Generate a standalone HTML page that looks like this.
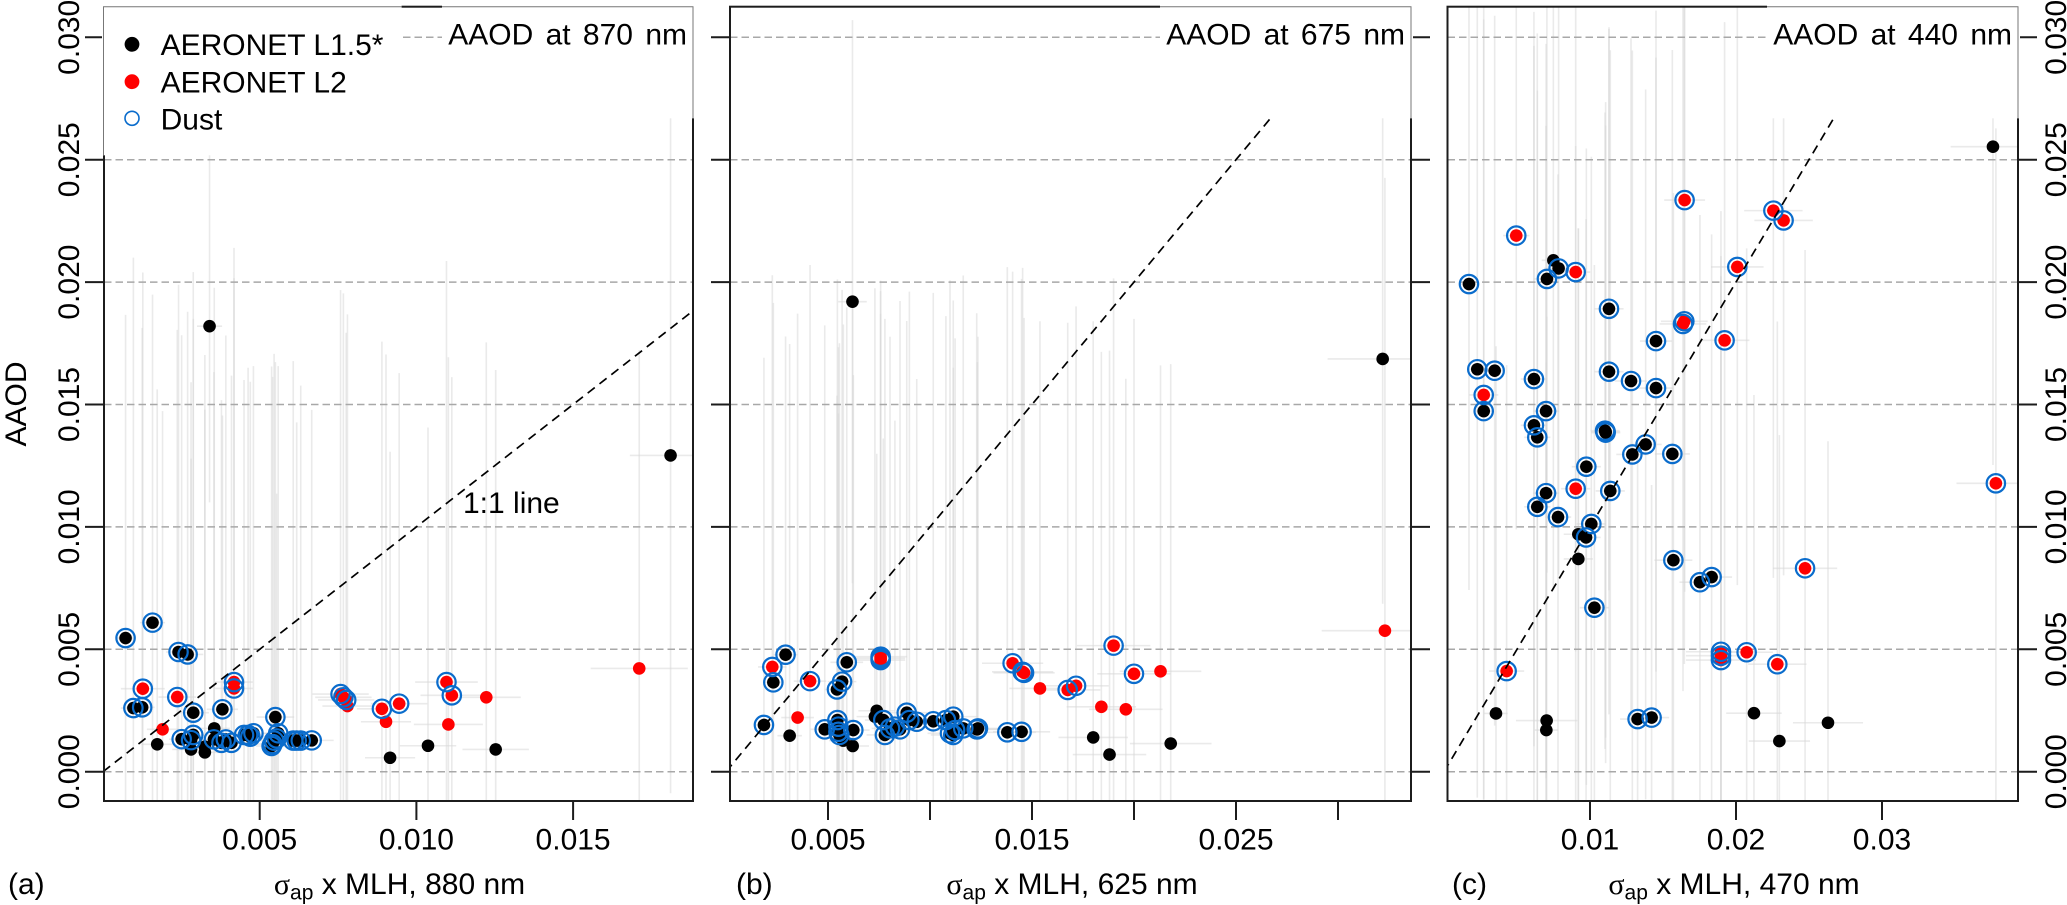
<!DOCTYPE html>
<html lang="en">
<head>
<meta charset="utf-8">
<title>AAOD versus absorption times mixing layer height</title>
<style>
html,body{margin:0;padding:0;background:#fff;}
body{width:2067px;height:905px;overflow:hidden;}
svg{display:block;}
text{font-family:"Liberation Sans",sans-serif;font-size:30px;fill:#000;}
</style>
</head>
<body>
<svg id="chart" xmlns="http://www.w3.org/2000/svg" width="2067" height="905" viewBox="0 0 2067 905">
  <defs>
    <clipPath id="clip-a"><rect x="104" y="6.7" width="589" height="794.3"/></clipPath>
    <clipPath id="clip-b"><rect x="730" y="6.7" width="681" height="794.3"/></clipPath>
    <clipPath id="clip-c"><rect x="1447.5" y="6.7" width="570.5" height="794.3"/></clipPath>
  </defs>
  <g id="plots"></g>

  <g>
    <rect x="102" y="5" width="299.6" height="150.3" fill="#fff"/>
    <polyline points="103.5,155.3 103.5,6.7 401.6,6.7" fill="none" stroke="#777" stroke-width="1"/>
    <circle cx="132" cy="44.3" r="7.4" fill="#000"/>
    <text x="160.6" y="55">AERONET L1.5*</text>
    <circle cx="132" cy="81.7" r="7.4" fill="#f00"/>
    <text x="160.6" y="92.3">AERONET L2</text>
    <circle cx="132" cy="118.3" r="7" fill="none" stroke="#0a6ccc" stroke-width="1.6"/>
    <text x="160.6" y="129.3">Dust</text>
  </g>

  <g>
    <rect x="442" y="5" width="253" height="113.3" fill="#fff"/>
    <polyline points="442,6.7 693,6.7 693,118.3" fill="none" stroke="#777" stroke-width="1"/>
    <text x="687" y="44.3" text-anchor="end" style="word-spacing:4px">AAOD at 870 nm</text>
  </g>
  <g>
    <rect x="1160" y="5" width="253" height="113.3" fill="#fff"/>
    <polyline points="1160,6.7 1411,6.7 1411,118.3" fill="none" stroke="#777" stroke-width="1"/>
    <text x="1405" y="44.3" text-anchor="end" style="word-spacing:4px">AAOD at 675 nm</text>
  </g>
  <g>
    <rect x="1767" y="5" width="253" height="113.3" fill="#fff"/>
    <polyline points="1767,6.7 2018,6.7 2018,118.3" fill="none" stroke="#777" stroke-width="1"/>
    <text x="2012" y="44.3" text-anchor="end" style="word-spacing:4px">AAOD at 440 nm</text>
  </g>

  <text x="463" y="513">1:1 line</text>
  <text transform="translate(26,404) rotate(-90)" text-anchor="middle">AAOD</text>

  <text x="8" y="894">(a)</text>
  <text x="736" y="894">(b)</text>
  <text x="1452" y="894">(c)</text>

  <text x="399.5" y="894" text-anchor="middle"><tspan style="font-family:'Liberation Serif','DejaVu Serif',serif">σ</tspan><tspan dy="5.5" style="font-size:21px">ap</tspan><tspan dy="-5.5"> x MLH, 880 nm</tspan></text>
  <text x="1072" y="894" text-anchor="middle"><tspan style="font-family:'Liberation Serif','DejaVu Serif',serif">σ</tspan><tspan dy="5.5" style="font-size:21px">ap</tspan><tspan dy="-5.5"> x MLH, 625 nm</tspan></text>
  <text x="1734" y="894" text-anchor="middle"><tspan style="font-family:'Liberation Serif','DejaVu Serif',serif">σ</tspan><tspan dy="5.5" style="font-size:21px">ap</tspan><tspan dy="-5.5"> x MLH, 470 nm</tspan></text>
</svg>

<script>
/* ---------- shared tick values ---------- */
var yTicks = [0, 0.005, 0.01, 0.015, 0.02, 0.025, 0.03];
var yTickLabels = ["0.000", "0.005", "0.010", "0.015", "0.020", "0.025", "0.030"];

/* ---------- panel (a) 880 / 870 nm ---------- */
var aXTicks = [0.005, 0.01, 0.015];
var aXTickLabels = ["0.005", "0.010", "0.015"];
var aX = [.00072,.00158,.00241,.00270,.00097,.00125,.00288,.00381,.00550,.00559,
          .00251,.00288,.00281,.00354,.00378,.00392,.00410,.00450,.00463,.00480,
          .00470,.00541,.00546,.00554,.00538,.00607,.00618,.00631,.00666,
          .00127,.00237,.00418,.00418,.00758,.00767,.00776,.00890,.00945,.01096,.01113,
          .00190,.00780,.00903,.01102,.01223,.01711,
          .00173,.00281,.00325,.00325,.00355,.00916,.01037,.01253,.00340,.01811];
var aY = [.00546,.00609,.00489,.00479,.00260,.00263,.00241,.00255,.00223,.00157,
          .00133,.00150,.00129,.00132,.00118,.00132,.00118,.00150,.00150,.00157,
          .00143,.00113,.00127,.00136,.00105,.00127,.00127,.00127,.00128,
          .00339,.00305,.00366,.00340,.00317,.00304,.00293,.00257,.00278,.00366,.00312,
          .00173,.00268,.00204,.00193,.00304,.00422,
          .00112,.00091,.00079,.00102,.00177,.00057,.00106,.00091,.01820,.01292];
var aRed = [0,0,0,0,0,0,0,0,0,0, 0,0,0,0,0,0,0,0,0,0, 0,0,0,0,0,0,0,0,0,
            1,1,1,1,1,1,1,1,1,1,1, 1,1,1,1,1,1, 0,0,0,0,0,0,0,0,0,0];
var aDust = [1,1,1,1,1,1,1,1,1,1, 1,1,1,1,1,1,1,1,1,1, 1,1,1,1,1,1,1,1,1,
             1,1,1,1,1,1,1,1,1,1,1, 0,0,0,0,0,0, 0,0,0,0,0,0,0,0,0,0];
var aXerr = [.0003,.0004,.0004,.0005,.0004,.0004,.0005,.0005,.0006,.0005,
             .0004,.0005,.0005,.0005,.0005,.0005,.0005,.0005,.0005,.0006,
             .0005,.0006,.0006,.0006,.0005,.0006,.0006,.0006,.0007,
             .0007,.0006,.0006,.0006,.0009,.0009,.0009,.0008,.0009,.0010,.0010,
             .0005,.0008,.0008,.0011,.0011,.00155,
             .0005,.0006,.0006,.0006,.0005,.0008,.0009,.00106,.0004,.0013];
var aYerr = [.0132,.0134,.0150,.0140,.0184,.0155,.0180,.0120,.0145,.0150,
             .0165,.0170,.0115,.0150,.0140,.0165,.0150,.0145,.0150,.0150,
             .0145,.0150,.0158,.0100,.0155,.0155,.0130,.0145,.0135,
             .0170,.0150,.0165,.0180,.0165,.0165,.0150,.0150,.0135,.0172,.0130,
             .0130,.0160,.0150,.0150,.0145,.0130,
             .0145,.0150,.0140,.0160,.0180,.0125,.0130,.0155,.0072,.0138];

/* ---------- panel (b) 625 / 675 nm ---------- */
var bXTicks = [0.005, 0.01, 0.015, 0.02, 0.025, 0.03];
var bXTickLabels = ["0.005", "", "0.015", "", "0.025", ""];
var bX = [.00186,.00292,.00232,.00592,.00569,.00544,.00484,.00546,.00551,.00551,
          .00556,.00624,.00771,.00779,.00804,.00828,.00853,.00886,.00899,.00935,
          .01016,.01078,.01114,.01098,.01114,.01123,.01163,.01229,.01232,.01235,
          .01379,.01449,
          .00227,.00412,.00758,.00758,.00758,.01405,.01454,.01461,.01675,.01716,.01900,.02000,
          .00351,.01539,.01840,.01960,.02130,.03230,
          .00312,.00739,.00730,.00621,.00575,.01800,.01880,.02180,.00620,.03219];
var bY = [.00191,.00478,.00365,.00447,.00368,.00336,.00173,.00211,.00184,.00163,
          .00150,.00170,.00211,.00150,.00177,.00184,.00173,.00241,.00211,.00204,
          .00206,.00211,.00225,.00157,.00150,.00170,.00177,.00173,.00173,.00177,
          .00161,.00163,
          .00428,.00370,.00463,.00470,.00456,.00443,.00408,.00404,.00334,.00351,.00515,.00400,
          .00221,.00340,.00265,.00255,.00410,.00576,
          .00147,.00249,.00225,.00105,.00127,.00140,.00070,.00115,.01920,.01686];
var bRed = [0,0,0,0,0,0,0,0,0,0, 0,0,0,0,0,0,0,0,0,0, 0,0,0,0,0,0,0,0,0,0, 0,0,
            1,1,1,1,1,1,1,1,1,1,1,1, 1,1,1,1,1,1, 0,0,0,0,0,0,0,0,0,0];
var bDust = [1,1,1,1,1,1,1,1,1,1, 1,1,1,1,1,1,1,1,1,1, 1,1,1,1,1,1,1,1,1,1, 1,1,
             1,1,1,1,1,1,1,1,1,1,1,1, 0,0,0,0,0,0, 0,0,0,0,0,0,0,0,0,0];
var bXerr = [.0005,.0006,.0005,.0008,.0007,.0006,.0007,.0007,.0007,.0007,
             .0007,.0008,.0009,.0009,.0009,.0009,.0009,.0010,.0010,.0010,
             .0011,.0011,.0012,.0011,.0011,.0012,.0012,.0012,.0012,.0012,
             .0014,.0014,
             .0007,.0008,.0012,.0013,.0012,.0015,.0015,.0015,.0016,.0016,.0018,.0018,
             .0008,.0015,.0017,.0018,.0020,.0031,
             .0006,.0009,.0009,.0008,.0007,.0017,.0018,.0020,.0007,.0027];
var bYerr = [.0150,.0130,.0155,.0145,.0160,.0120,.0165,.0180,.0155,.0130,
             .0160,.0145,.0115,.0170,.0160,.0125,.0175,.0160,.0175,.0140,
             .0175,.0165,.0170,.0185,.0150,.0160,.0185,.0170,.0150,.0160,
             .0190,.0185,
             .0160,.0170,.0150,.0140,.0155,.0160,.0165,.0145,.0150,.0155,.0150,.0145,
             .0165,.0150,.0145,.0135,.0125,.0185,
             .0160,.0105,.0175,.0180,.0170,.0170,.0165,.0155,.0115,.0100];

/* ---------- panel (c) 470 / 440 nm ---------- */
var cXTicks = [0.01, 0.02, 0.03];
var cXTickLabels = ["0.01", "0.02", "0.03"];
var cX = [.00171,.00705,.00785,.01130,.01452,.00228,.00347,.00616,.01130,.01281,
          .01452,.00272,.00699,.00616,.00639,.01107,.01107,.01103,.01381,.01290,
          .01564,.00975,.00699,.00639,.01139,.00781,.01009,.00973,.01571,.01833,
          .01753,.01030,.01326,.01422,
          .01648,.02256,.02326,.00495,.00902,.02009,.01646,.01637,.01922,.00272,
          .00902,.00429,.01897,.01897,.01897,.02073,.02283,.02473,.03780,
          .00749,.00920,.00920,.00356,.00703,.00701,.02123,.02297,.02630,.03760];
var cY = [.01992,.02013,.02056,.01891,.01759,.01644,.01638,.01604,.01634,.01596,
          .01567,.01473,.01473,.01415,.01366,.01389,.01385,.01393,.01337,.01296,
          .01298,.01246,.01138,.01082,.01147,.01040,.01012,.00957,.00864,.00795,
          .00774,.00670,.00215,.00221,
          .02335,.02292,.02252,.02190,.02041,.02062,.01840,.01829,.01762,.01539,
          .01156,.00411,.00490,.00474,.00456,.00488,.00439,.00831,.01178,
          .02089,.00970,.00869,.00238,.00209,.00170,.00239,.00125,.00200,.02553];
var cRed = [0,0,0,0,0,0,0,0,0,0, 0,0,0,0,0,0,0,0,0,0, 0,0,0,0,0,0,0,0,0,0, 0,0,0,0,
            1,1,1,1,1,1,1,1,1,1, 1,1,1,1,1,1,1,1,1, 0,0,0,0,0,0,0,0,0,0];
var cDust = [1,1,1,1,1,1,1,1,1,1, 1,1,1,1,1,1,1,1,1,1, 1,1,1,1,1,1,1,1,1,1, 1,1,1,1,
             1,1,1,1,1,1,1,1,1,1, 1,1,1,1,1,1,1,1,1, 0,0,0,0,0,0,0,0,0,0];
var cXerr = [.0006,.0009,.0010,.0010,.0011,.0006,.0007,.0009,.0010,.0011,
             .0012,.0006,.0009,.0009,.0009,.0010,.0010,.0010,.0011,.0011,
             .0012,.0010,.0009,.0009,.0010,.0009,.0010,.0010,.0013,.0014,
             .0014,.0010,.0012,.0012,
             .0014,.0020,.0020,.0009,.0010,.0018,.0016,.0016,.0017,.0010,
             .0010,.0012,.0024,.0024,.0024,.0018,.0020,.0022,.0027,
             .0008,.0010,.0010,.0008,.0021,.0008,.0019,.0021,.0024,.0029];
var cYerr = [.0125,.0120,.0125,.0115,.0135,.0175,.0145,.0150,.0140,.0140,
             .0135,.0160,.0150,.0155,.0165,.0125,.0135,.0130,.0145,.0165,
             .0165,.0130,.0150,.0170,.0180,.0140,.0150,.0130,.0150,.0140,
             .0150,.0140,.0110,.0095,
             .0160,.0150,.0145,.0120,.0155,.0130,.0140,.0150,.0130,.0165,
             .0140,.0125,.0180,.0155,.0165,.0165,.0140,.0130,.0145,
             .0135,.0125,.0135,.0150,.0165,.0150,.0130,.0125,.0115,.0130];

/* ---------- one-to-one reference ---------- */
var oneToOne = [0, 0.032];

var NS = "http://www.w3.org/2000/svg";
var plots = document.getElementById("plots");

function mk(tag, attrs, parent) {
  var el = document.createElementNS(NS, tag);
  for (var k in attrs) el.setAttribute(k, attrs[k]);
  parent.appendChild(el);
  return el;
}

function drawPanel(p) {
  var xOf = function (v) { return p.x0 + v * p.xScale; };
  var yOf = function (v) { return 771.7 - v * 24480; };
  /* keep mark ends inside the plot box so nothing overflows the frame */
  var topPx = 6.7, bottomPx = 801;
  var clampY = function (px) { return Math.min(bottomPx, Math.max(topPx, px)); };
  var clampX = function (px) { return Math.min(p.right, Math.max(p.left, px)); };

  var group = mk("g", {}, plots);
  
  
  var clipped = mk("g", { "clip-path": "url(#clip-" + p.id + ")" }, group);
  
  

  /* error bars */
  p.xs.forEach(function (xv, i) {
    var yv = p.ys[i];
    var v = mk("line", { x1: xOf(xv), x2: xOf(xv), y1: clampY(yOf(yv - p.yerr[i])), y2: clampY(yOf(yv + p.yerr[i])), stroke: "#d6d6d6", "stroke-width": 1.6, "stroke-opacity": 0.5 }, clipped);
    
    
    var h = mk("line", { x1: clampX(xOf(xv - p.xerr[i])), x2: clampX(xOf(xv + p.xerr[i])), y1: yOf(yv), y2: yOf(yv), stroke: "#d6d6d6", "stroke-width": 1.6, "stroke-opacity": 0.5 }, clipped);
    
    
  });

  /* horizontal reference lines */
  yTicks.forEach(function (t) {
    var g = mk("line", { x1: p.left, x2: p.right, y1: yOf(t), y2: yOf(t), stroke: "#a8a8a8", "stroke-width": 1.5, "stroke-dasharray": "7.5 4" }, clipped);
    
    
  });

  /* points: black first, then red, then dust rings */
  [0, 1].forEach(function (wanted) {
    p.xs.forEach(function (xv, i) {
      if (p.red[i] !== wanted) return;
      var c = mk("circle", { cx: xOf(xv), cy: yOf(p.ys[i]), r: 6.3, fill: wanted ? "#f00" : "#000" }, clipped);
      
      
    });
  });
  p.xs.forEach(function (xv, i) {
    if (!p.dust[i]) return;
    var c = mk("circle", { cx: xOf(xv), cy: yOf(p.ys[i]), r: 9.2, fill: "none", stroke: "#0a6ccc", "stroke-width": 2.2 }, clipped);
    
    
  });

  /* 1:1 line, drawn y = x through the axis functions and stopped at the plot edge */
  var lineEnd = Math.min(oneToOne[1], (p.right - p.x0) / p.xScale);
  var l = mk("line", { x1: xOf(oneToOne[0]), y1: yOf(oneToOne[0]), x2: xOf(lineEnd), y2: yOf(lineEnd), stroke: "#000", "stroke-width": 1.7, "stroke-dasharray": "9 6" }, clipped);
  
  

  /* frame */
  var box = mk("rect", { x: p.left, y: 6.7, width: p.right - p.left, height: 794.3, fill: "none", stroke: "#1c1c1c", "stroke-width": 2 }, group);
  
  

  /* x ticks */
  p.xTicks.forEach(function (t, i) {
    var tk = mk("line", { x1: xOf(t), x2: xOf(t), y1: 801, y2: 820, stroke: "#1c1c1c", "stroke-width": 2 }, group);
    
    
    if (p.xLabels[i]) {
      var tx = mk("text", { x: xOf(t), y: 849.5, "text-anchor": "middle" }, group);
      tx.textContent = p.xLabels[i];
      
      
    }
  });

  /* y ticks */
  yTicks.forEach(function (t, i) {
    if (p.leftTicks) {
      var tk = mk("line", { x1: p.left - 19, x2: p.left, y1: yOf(t), y2: yOf(t), stroke: "#1c1c1c", "stroke-width": 2 }, group);
      
      
    }
    if (p.rightTicks) {
      var tr = mk("line", { x1: p.right, x2: p.right + 19, y1: yOf(t), y2: yOf(t), stroke: "#1c1c1c", "stroke-width": 2 }, group);
      
      
    }
    if (p.labelX) {
      var lb = mk("text", { transform: "translate(" + p.labelX + "," + yOf(t) + ") rotate(-90)", "text-anchor": "middle" }, group);
      lb.textContent = yTickLabels[i];
      
      
    }
  });
}

drawPanel({ id: "a", left: 104, right: 693, x0: 103, xScale: 31340, xs: aX, ys: aY, red: aRed, dust: aDust, xerr: aXerr, yerr: aYerr, xTicks: aXTicks, xLabels: aXTickLabels, leftTicks: true, rightTicks: false, labelX: 79 });
drawPanel({ id: "b", left: 730, right: 1411, x0: 726, xScale: 20400, xs: bX, ys: bY, red: bRed, dust: bDust, xerr: bXerr, yerr: bYerr, xTicks: bXTicks, xLabels: bXTickLabels, leftTicks: true, rightTicks: true, labelX: 0 });
drawPanel({ id: "c", left: 1447.5, right: 2018, x0: 1444, xScale: 14600, xs: cX, ys: cY, red: cRed, dust: cDust, xerr: cXerr, yerr: cYerr, xTicks: cXTicks, xLabels: cXTickLabels, leftTicks: false, rightTicks: true, labelX: 2066 });
</script>
</body>
</html>
